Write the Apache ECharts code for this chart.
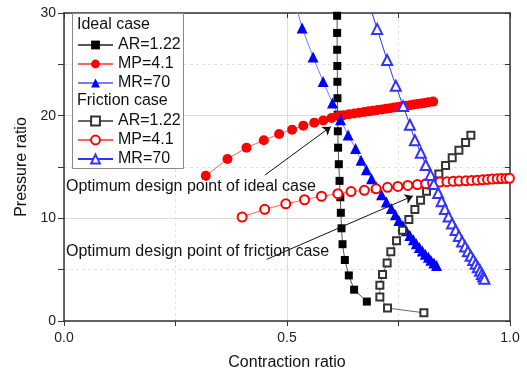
<!DOCTYPE html>
<html>
<head>
<meta charset="utf-8">
<script src="https://cdn.jsdelivr.net/npm/echarts@6/dist/echarts.min.js"></script>
<style>
  html, body { margin: 0; padding: 0; background: #fff; }
  #chart { width: 527px; height: 376px; }
</style>
</head>
<body>
<div id="chart"></div>
<script>
  // values, [contraction ratio, pressure ratio]
  let idealAR = [
    [0.6124, 29.73], [0.6124, 28.06], [0.6124, 26.42], [0.6128, 24.84], [0.6130, 23.30],
    [0.6132, 21.70], [0.6135, 20.09], [0.6140, 18.48], [0.6146, 16.88], [0.6162, 15.27],
    [0.6178, 13.65], [0.6196, 12.05], [0.6207, 10.54], [0.6222, 9.03], [0.6245, 7.48],
    [0.6297, 5.94], [0.6386, 4.44], [0.6505, 3.05], [0.6790, 1.89]
  ];
  let idealMP = [
    [0.3179, 14.14], [0.3665, 15.78], [0.4092, 16.88], [0.4480, 17.61], [0.4823, 18.21],
    [0.5114, 18.64], [0.5366, 19.03], [0.5612, 19.32], [0.5814, 19.54], [0.5998, 19.77],
    [0.6146, 19.96], [0.6270, 20.05], [0.6390, 20.13], [0.6510, 20.21], [0.6620, 20.28],
    [0.6730, 20.35], [0.6830, 20.42], [0.6930, 20.48], [0.7030, 20.55], [0.7130, 20.61],
    [0.7220, 20.67], [0.7310, 20.73], [0.7400, 20.79], [0.7490, 20.85], [0.7580, 20.91],
    [0.7670, 20.97], [0.7760, 21.02], [0.7840, 21.08], [0.7930, 21.13], [0.8010, 21.19],
    [0.8090, 21.24], [0.8170, 21.30], [0.8277, 21.37]
  ];
  let idealMR = [
    [0.5130, 31.90], [0.5339, 28.54], [0.5585, 25.71], [0.5810, 23.34], [0.6020, 21.24],
    [0.6200, 19.60], [0.6370, 18.11], [0.6537, 16.81], [0.6660, 15.65], [0.6780, 14.72],
    [0.6896, 13.85], [0.7003, 13.05], [0.7120, 12.30], [0.7228, 11.60], [0.7340, 10.95],
    [0.7430, 10.36], [0.7508, 9.80], [0.7598, 9.28], [0.7676, 8.79], [0.7755, 8.34],
    [0.7833, 7.92], [0.7900, 7.52], [0.7968, 7.16], [0.8035, 6.82], [0.8100, 6.50],
    [0.8170, 6.20], [0.8226, 5.92], [0.8293, 5.66], [0.8354, 5.41]
  ];
  let frictionAR = [
    [0.9123, 18.09], [0.9004, 17.39], [0.8854, 16.64], [0.8704, 15.91], [0.8555, 15.14],
    [0.8405, 14.33], [0.8277, 13.43], [0.8129, 12.63], [0.7995, 11.76], [0.7867, 10.86],
    [0.7732, 9.89], [0.7591, 8.83], [0.7456, 7.81], [0.7328, 6.75], [0.7245, 5.65],
    [0.7142, 4.53], [0.7082, 3.47], [0.7082, 2.34], [0.7254, 1.26], [0.8069, 0.80]
  ];
  let frictionMP = [
    [0.3993, 10.13], [0.4500, 10.88], [0.4973, 11.41], [0.5393, 11.81], [0.5774, 12.15],
    [0.6140, 12.40], [0.6436, 12.61], [0.6734, 12.73], [0.6999, 12.87], [0.7254, 13.02],
    [0.7486, 13.11], [0.7710, 13.20], [0.7923, 13.29], [0.8109, 13.38], [0.8264, 13.46],
    [0.8428, 13.53], [0.8585, 13.57], [0.8726, 13.60], [0.8860, 13.63], [0.9010, 13.65],
    [0.9139, 13.69], [0.9264, 13.72], [0.9385, 13.75], [0.9497, 13.79], [0.9600, 13.82],
    [0.9713, 13.85], [0.9812, 13.87], [0.9908, 13.89], [0.9987, 13.90]
  ];
  let frictionMR = [
    [0.6770, 31.85], [0.7021, 28.45], [0.7245, 25.42], [0.7440, 22.91], [0.7604, 20.93],
    [0.7755, 19.12], [0.7867, 17.61], [0.8000, 16.39], [0.8110, 15.20], [0.8220, 14.23],
    [0.8290, 13.34], [0.8390, 12.47], [0.8466, 11.67], [0.8540, 10.90], [0.8623, 10.17],
    [0.8700, 9.50], [0.8780, 8.87], [0.8854, 8.29], [0.8925, 7.75], [0.8993, 7.25],
    [0.9056, 6.79], [0.9118, 6.35], [0.9177, 5.95], [0.9230, 5.57], [0.9280, 5.23],
    [0.9330, 4.90], [0.9370, 4.59], [0.9400, 4.34], [0.9426, 4.11]
  ];
  // arrows: [from, to]
  let arrowIdeal = [[0.4502, 14.20], [0.5983, 18.93]];
  let arrowFriction = [[0.4547, 6.01], [0.7822, 12.18]];

  let font = '"Liberation Sans", Arial, sans-serif';
  let chart = echarts.init(document.getElementById('chart'));

  function mkSeries(name, data, symbol, size, color, lineColor, hollow) {
    return {
      name: name,
      type: 'line',
      data: data,
      symbol: symbol,
      symbolSize: size,
      showAllSymbol: true,
      clip: true,
      animation: false,
      itemStyle: {color: color, borderColor: color, borderWidth: hollow ? 1 : 0},
      lineStyle: {color: lineColor, width: 1},
      emphasis: {disabled: true},
      z: hollow ? 3 : 2
    }
  }

  let axisCommon = {
    type: 'value',
    axisLine: {show: true, onZero: false, lineStyle: {color: '#333', width: 1.5}},
    splitLine: {show: false},
    minorSplitLine: {show: false}
  };

  let option = {
    animation: false,
    grid: {left: 64, right: 17, top: 13, bottom: 52},
    xAxis: [
      Object.assign({}, axisCommon, {
        min: 0, max: 1, interval: 0.5, position: 'bottom',
        name: 'Contraction ratio', nameLocation: 'middle', nameGap: 34,
        nameTextStyle: {fontFamily: font, fontSize: 16, color: '#111'},
        axisTick: {show: true, inside: false, length: 5, lineStyle: {color: '#333'}},
        minorTick: {show: true, splitNumber: 2, length: 5, lineStyle: {color: '#333'}},
        axisLabel: {fontFamily: font, fontSize: 14, color: '#222', margin: 10,
          formatter: function (v) { return v.toFixed(1) }},
        splitLine: {show: true, lineStyle: {color: '#dcdcdc', width: 1}},
        minorSplitLine: {show: true, lineStyle: {color: '#e2e2e2', width: 1, type: [3, 3]}}
      }),
      Object.assign({}, axisCommon, {
        min: 0, max: 1, interval: 0.5, position: 'top',
        axisTick: {show: true, inside: true, length: 5, lineStyle: {color: '#333'}},
        minorTick: {show: true, splitNumber: 2, length: 5, lineStyle: {color: '#333'}},
        axisLabel: {show: false}
      })
    ],
    yAxis: [
      Object.assign({}, axisCommon, {
        min: 0, max: 30, interval: 10, position: 'left',
        name: 'Pressure ratio', nameLocation: 'middle', nameGap: 34,
        nameTextStyle: {fontFamily: font, fontSize: 16, color: '#111'},
        axisTick: {show: true, inside: false, length: 6, lineStyle: {color: '#333'}},
        minorTick: {show: true, splitNumber: 2, length: 6, lineStyle: {color: '#333'}},
        axisLabel: {fontFamily: font, fontSize: 14, color: '#222', margin: 8},
        splitLine: {show: true, lineStyle: {color: '#dcdcdc', width: 1}},
        minorSplitLine: {show: true, lineStyle: {color: '#e2e2e2', width: 1, type: [3, 3]}}
      }),
      Object.assign({}, axisCommon, {
        min: 0, max: 30, interval: 10, position: 'right',
        axisTick: {show: true, inside: true, length: 5, lineStyle: {color: '#333'}},
        minorTick: {show: true, splitNumber: 2, length: 5, lineStyle: {color: '#333'}},
        axisLabel: {show: false}
      })
    ],
    legend: [
      {
        left: 77, top: 35.5, orient: 'vertical', padding: 0, itemGap: 0,
        itemWidth: 35, itemHeight: 11, selectedMode: false,
        textStyle: {fontFamily: font, fontSize: 16, lineHeight: 19, color: '#111'},
        data: ['AR=1.22', 'MP=4.1', 'MR=70']
      },
      {
        left: 77, top: 111.5, orient: 'vertical', padding: 0, itemGap: 0,
        itemWidth: 35, itemHeight: 11, selectedMode: false,
        textStyle: {fontFamily: font, fontSize: 16, lineHeight: 19, color: '#111'},
        formatter: function (name) { return name.replace('Friction ', '') },
        data: ['Friction AR=1.22', 'Friction MP=4.1', 'Friction MR=70']
      }
    ],
    graphic: [
      {type: 'rect', z: 3, shape: {x: 72.5, y: 13.5, width: 111, height: 155},
        style: {fill: '#fff', stroke: '#8a8a8a', lineWidth: 1}},
      {type: 'text', z: 5, left: 77, top: 17,
        style: {text: 'Ideal case', font: '16px ' + font, fill: '#111'}},
      {type: 'text', z: 5, left: 77, top: 93,
        style: {text: 'Friction case', font: '16px ' + font, fill: '#111'}},
      {type: 'text', z: 5, left: 66, top: 179,
        style: {text: 'Optimum design point of ideal case', font: '16px ' + font, fill: '#111'}},
      {type: 'text', z: 5, left: 66, top: 244,
        style: {text: 'Optimum design point of friction case', font: '16px ' + font, fill: '#111'}}
    ],
    series: [
      mkSeries('AR=1.22', idealAR, 'rect', 8, '#000', '#555', false),
      Object.assign(mkSeries('MP=4.1', idealMP, 'circle', 10, '#ff0000', '#ff6060', false), {
        markLine: {
          silent: true, animation: false,
          symbol: ['none', 'arrow'], symbolSize: 8,
          label: {show: false},
          lineStyle: {color: '#111', width: 1, type: 'solid'},
          data: [
            [{coord: arrowIdeal[0]}, {coord: arrowIdeal[1]}],
            [{coord: arrowFriction[0]}, {coord: arrowFriction[1]}]
          ]
        }
      }),
      mkSeries('MR=70', idealMR, 'triangle', 11, '#0000ff', '#7a7aff', false),
      mkSeries('Friction AR=1.22', frictionAR, 'emptyRect', 7, '#333', '#666', true),
      mkSeries('Friction MP=4.1', frictionMP, 'emptyCircle', 9, '#ff0000', '#ff6060', true),
      mkSeries('Friction MR=70', frictionMR, 'emptyTriangle', 10, '#3333ff', '#3333ff', true)
    ]
  };
  chart.setOption(option);
</script>
</body>
</html>
